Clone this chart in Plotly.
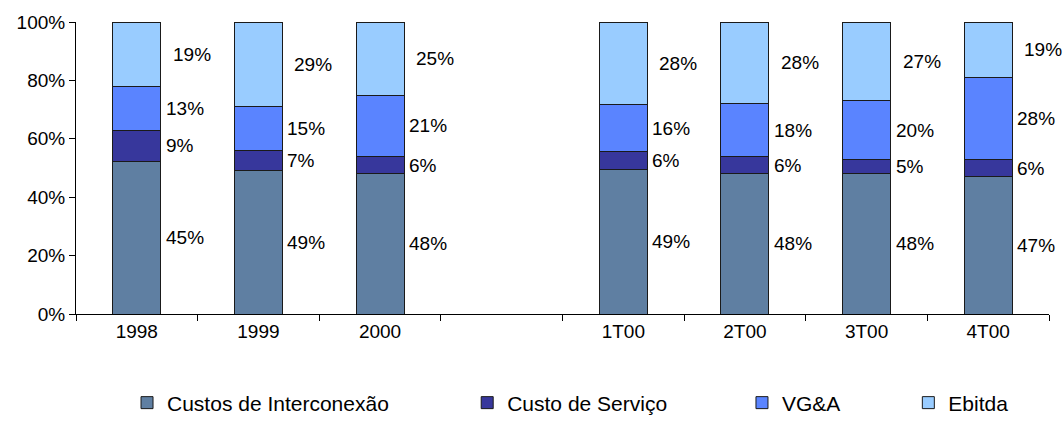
import plotly.graph_objects as go

categories = ["1998", "1999", "2000", " ", "1T00", "2T00", "3T00", "4T00"]
series_names = ["Custos de Interconexão", "Custo de Serviço", "VG&A", "Ebitda"]
interconexao = [45, 49, 48, None, 49, 48, 48, 47]
servico = [9, 7, 6, None, 6, 6, 5, 6]
vga = [13, 15, 21, None, 16, 18, 20, 28]
ebitda = [19, 29, 25, None, 28, 28, 27, 19]
y_ticks = [0, 20, 40, 60, 80, 100]
y_tick_labels = ["0%", "20%", "40%", "60%", "80%", "100%"]

colors = ["#5f7fa2", "#37379c", "#5a84ff", "#99ccff"]
series = [interconexao, servico, vga, ebitda]

FONT = "Liberation Sans, Arial, sans-serif"
FS = 19

fig = go.Figure()
legend_ids = ["legend", "legend2", "legend3", "legend4"]
for name, vals, col, lg in zip(series_names, series, colors, legend_ids):
    fig.add_trace(go.Bar(
        x=categories, y=vals, name=name,
        marker=dict(color=col, line=dict(color="#1a1a1a", width=1)),
        legend=lg,
    ))

# data labels at the middle of each normalized segment, right of the bar
label_shift = [3, 3, 3, 10]
for i, cat in enumerate(categories):
    col_vals = [s[i] for s in series]
    if any(v is None for v in col_vals):
        continue
    total = sum(col_vals)
    cum = 0.0
    for j, v in enumerate(col_vals):
        pct = v / total * 100
        mid = cum + pct / 2
        cum += pct
        fig.add_annotation(
            x=i, y=mid, xref="x", yref="y",
            text=f"{v}%", showarrow=False,
            xanchor="left", yanchor="middle",
            xshift=24 + label_shift[j],
            font=dict(family=FONT, size=FS, color="#000000"),
        )

legend_x = [0.1195, 0.4395, 0.698, 0.8545]
layout_legends = {}
for lg, lx in zip(legend_ids, legend_x):
    layout_legends[lg] = dict(
        x=lx, y=0.065, xref="container", yref="container",
        xanchor="left", yanchor="middle",
        orientation="h", bgcolor="rgba(0,0,0,0)",
        font=dict(family=FONT, size=21, color="#000000"),
        itemclick=False,
    )

fig.update_layout(
    width=1063, height=431,
    margin=dict(l=76, r=14, t=22, b=117),
    paper_bgcolor="white", plot_bgcolor="white",
    barmode="stack", barnorm="percent", bargap=0.605,
    showlegend=True,
    font=dict(family=FONT, size=FS, color="#000000"),
    xaxis=dict(
        type="category", categoryorder="array", categoryarray=categories,
        showline=True, linecolor="#000000", linewidth=1,
        ticks="outside", tickson="boundaries", ticklen=6, tickcolor="#000000",
        showgrid=False, zeroline=False, automargin=False,
        tickfont=dict(family=FONT, size=FS, color="#000000"),
        range=[-0.5, len(categories) - 0.5],
    ),
    yaxis=dict(
        range=[0, 100], tickvals=y_ticks, ticktext=y_tick_labels,
        showline=True, linecolor="#000000", linewidth=1,
        ticks="outside", ticklen=6, tickcolor="#000000",
        showgrid=False, zeroline=False, automargin=False,
        tickfont=dict(family=FONT, size=FS, color="#000000"),
    ),
    **layout_legends,
)

fig.write_html(
    "out.html",
    config={"displayModeBar": False},
    post_script="document.body.style.margin='0';document.body.style.overflow='hidden';",
)
